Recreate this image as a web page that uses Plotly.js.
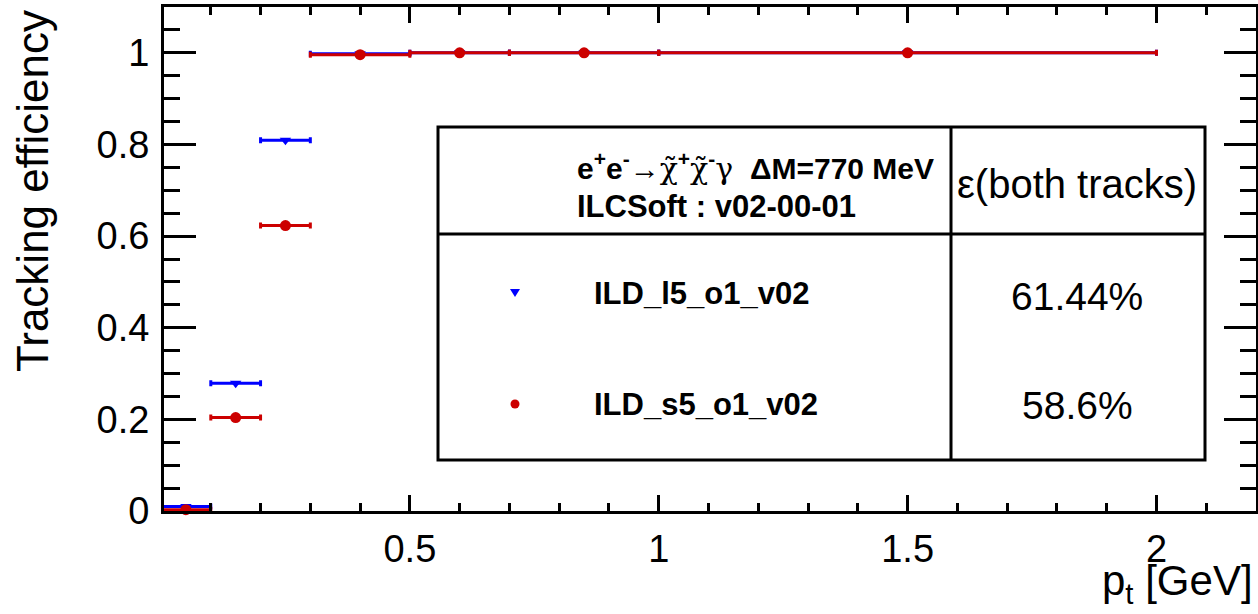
<!DOCTYPE html>
<html>
<head>
<meta charset="utf-8">
<script src="https://cdn.plot.ly/plotly-3.0.1.min.js"></script>
<style>html,body{margin:0;padding:0;background:#fff;}#chart{width:1258px;height:614px;}</style>
</head>
<body>
<div id="chart"></div>
<script>
// ---- data ----
const binLow  = [0.0, 0.1, 0.2, 0.3, 0.5, 0.7, 1.0];
const binHigh = [0.1, 0.2, 0.3, 0.5, 0.7, 1.0, 2.0];
const effL5 = [0.010, 0.279, 0.809, 0.998, 1.0, 1.0, 1.0];   // ILD_l5_o1_v02
const effS5 = [0.003, 0.204, 0.623, 0.996, 1.0, 1.0, 1.0];   // ILD_s5_o1_v02
const seriesNames = ['ILD_l5_o1_v02', 'ILD_s5_o1_v02'];
const totalEff = ['61.44%', '58.6%'];
const yTicks = [0, 0.2, 0.4, 0.6, 0.8, 1];
const yTickLabels = ['0', '0.2', '0.4', '0.6', '0.8', '1'];
const xTicks = [0.5, 1, 1.5, 2];
const xTickLabels = ['0.5', '1', '1.5', '2'];

// ---- derived ----
const centers = binLow.map((l, i) => (l + binHigh[i]) / 2);
const halfW = binLow.map((l, i) => (binHigh[i] - l) / 2);

// ---- layout geometry ----
const W = 1258, H = 614;
const M = {l: 164, r: 2, t: 7, b: 103};
const PW = W - M.l - M.r, PH = H - M.t - M.b;
const px = x => (x - M.l) / PW;
const py = y => (H - M.b - y) / PH;

const FONT = 'Liberation Sans, Arial, Helvetica, sans-serif';
const BLUE = '#0000ff', RED = '#cc0000';

const traces = [
  {
    x: centers, y: effL5, type: 'scatter', mode: 'markers', name: seriesNames[0],
    marker: {symbol: 'triangle-down', size: 10, color: BLUE},
    error_x: {type: 'data', array: halfW, symmetric: true, color: BLUE, thickness: 3, width: 3},
    cliponaxis: false, showlegend: false
  },
  {
    x: centers, y: effS5, type: 'scatter', mode: 'markers', name: seriesNames[1],
    marker: {symbol: 'circle', size: 11, color: RED},
    error_x: {type: 'data', array: halfW, symmetric: true, color: RED, thickness: 3, width: 3},
    cliponaxis: false, showlegend: false
  }
];

const T = 127, B = 460, L = 438, R = 1205, VX = 951, HY = 234;
const shapes = [
  {type: 'rect', xref: 'paper', yref: 'paper', x0: px(L), x1: px(R), y0: py(B), y1: py(T), line: {color: 'black', width: 3}},
  {type: 'line', xref: 'paper', yref: 'paper', x0: px(VX), x1: px(VX), y0: py(B), y1: py(T), line: {color: 'black', width: 3}},
  {type: 'line', xref: 'paper', yref: 'paper', x0: px(L), x1: px(R), y0: py(HY), y1: py(HY), line: {color: 'black', width: 3}},
  // legend symbols
  {type: 'path', xref: 'paper', yref: 'paper',
   path: `M ${px(510)},${py(289)} L ${px(520)},${py(289)} L ${px(515)},${py(297)} Z`,
   fillcolor: BLUE, line: {width: 0}},
  {type: 'circle', xref: 'paper', yref: 'paper', x0: px(510.5), x1: px(519.5), y0: py(408.5), y1: py(399.5),
   fillcolor: RED, line: {width: 0}}
];

const SYM = "<span style='font-family:DejaVu Serif'>";
const ann = (o) => Object.assign({xref: 'paper', yref: 'paper', showarrow: false, font: {family: FONT, size: 30, color: 'black'}}, o);
const annotations = [
  ann({x: px(575), y: py(166), xanchor: 'left', yanchor: 'middle', align: 'left',
       text: '<b>e<sup>+</sup>e<sup>-</sup></b>→' + SYM + 'χ\u0303</span><sup><b>+</b></sup>' + SYM + 'χ\u0303</span><sup><b>-</b></sup>' + SYM + 'γ</span>  <b>ΔM=770 MeV</b>'}),
  ann({x: px(575), y: py(206), xanchor: 'left', yanchor: 'middle', align: 'left', text: '<b>ILCSoft : v02-00-01</b>', font: {family: FONT, size: 31, color: 'black'}}),
  ann({x: px(1077), y: py(184), xanchor: 'center', yanchor: 'middle', text: 'ε(both tracks)', font: {family: FONT, size: 40, color: 'black'}}),
  ann({x: px(592), y: py(293), xanchor: 'left', yanchor: 'middle', text: '<b>' + seriesNames[0] + '</b>', font: {family: FONT, size: 31, color: 'black'}}),
  ann({x: px(592), y: py(404), xanchor: 'left', yanchor: 'middle', text: '<b>' + seriesNames[1] + '</b>', font: {family: FONT, size: 31, color: 'black'}}),
  ann({x: px(1077), y: py(296), xanchor: 'center', yanchor: 'middle', text: totalEff[0], font: {family: FONT, size: 39, color: 'black'}}),
  ann({x: px(1077), y: py(405), xanchor: 'center', yanchor: 'middle', text: totalEff[1], font: {family: FONT, size: 39, color: 'black'}}),
  // axis titles
  ann({x: px(1255), y: py(555), xanchor: 'right', yanchor: 'top', text: 'p<sub>t</sub> [GeV]', font: {family: FONT, size: 42, color: 'black'}}),
  ann({x: px(32), y: py(8), xanchor: 'center', yanchor: 'top', textangle: -90, text: 'Tracking efficiency', font: {family: FONT, size: 44, color: 'black'}})
];

const layout = {
  width: W, height: H,
  margin: M,
  paper_bgcolor: 'white', plot_bgcolor: 'white',
  showlegend: false,
  font: {family: FONT, color: 'black'},
  xaxis: {
    range: [0.006, 2.2], showgrid: false, zeroline: false,
    showline: true, linecolor: 'black', linewidth: 3, mirror: 'allticks',
    ticks: 'inside', ticklen: 16, tickwidth: 3, tickcolor: 'black',
    tickmode: 'array', tickvals: xTicks, ticktext: xTickLabels,
    tickfont: {family: FONT, size: 38, color: 'black'}, ticklabelstandoff: 2,
    minor: {ticks: 'inside', ticklen: 8, tickwidth: 3, tickcolor: 'black', dtick: 0.1, tick0: 0, showgrid: false}
  },
  yaxis: {
    range: [0, 1.1], showgrid: false, zeroline: false,
    showline: true, linecolor: 'black', linewidth: 3, mirror: 'allticks',
    ticks: 'inside', ticklen: 32, tickwidth: 3, tickcolor: 'black',
    tickmode: 'array', tickvals: yTicks, ticktext: yTickLabels,
    tickfont: {family: FONT, size: 38, color: 'black'}, ticklabelstandoff: 4,
    minor: {ticks: 'inside', ticklen: 16, tickwidth: 3, tickcolor: 'black', dtick: 0.05, tick0: 0, showgrid: false}
  },
  shapes: shapes,
  annotations: annotations
};

Plotly.newPlot('chart', traces, layout, {staticPlot: true, displayModeBar: false});
</script>
</body>
</html>
